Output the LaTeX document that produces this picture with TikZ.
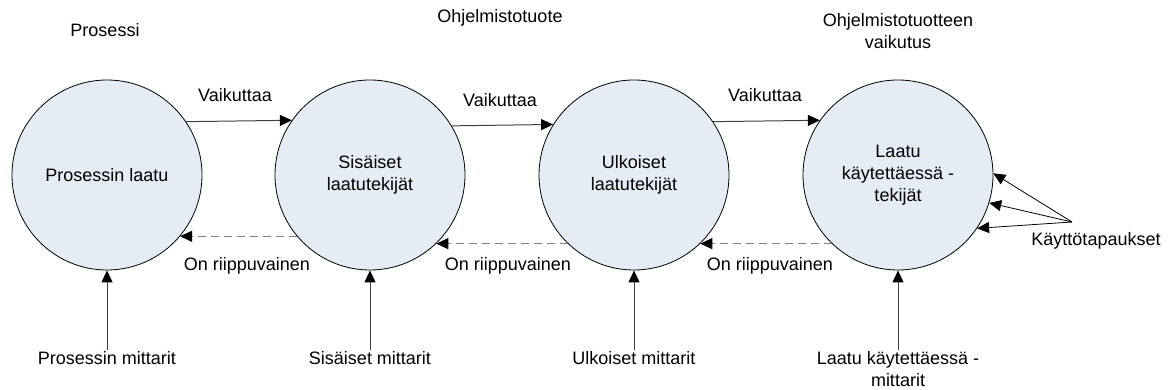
\documentclass[tikz,border=0pt]{standalone}
\usepackage{fontspec}
\setmainfont{Liberation Sans}
\usetikzlibrary{arrows.meta}
\definecolor{circfill}{RGB}{230,236,246}
\definecolor{linegray}{RGB}{64,64,64}
\definecolor{dashgray}{RGB}{128,128,128}
\begin{document}
\begin{tikzpicture}[x=1pt,y=-1pt,
  every node/.style={font=\fontsize{18}{22}\selectfont},
  quality/.style={circle,draw=black,line width=0.8pt,fill=circfill,minimum size=190pt,inner sep=0pt,align=center},
  lbl/.style={inner sep=1pt,align=center},
  tip/.style={-{Triangle[length=12pt,width=11pt,color=black,fill=black]}},
  affects/.style={tip,draw=linegray,line width=1pt},
  depends/.style={tip,draw=dashgray,line width=1pt,dash pattern=on 8pt off 5pt},
  measure/.style={tip,draw=linegray,line width=1pt},
  usecase/.style={tip,draw=black,line width=0.8pt}]
\useasboundingbox (0,0) rectangle (1168,390);

% quality circles
\node[quality] (c1) at (107,175) {Prosessin laatu};
\node[quality] (c2) at (370,175) {Sisäiset\\laatutekijät};
\node[quality] (c3) at (634,175) {Ulkoiset\\laatutekijät};
\node[quality] (c4) at (898,175) {Laatu\\käytettäessä -\\tekijät};

% column headings
\node[lbl] (h1) at (105,30) {Prosessi};
\node[lbl] (h2) at (500,18) {Ohjelmistotuote};
\node[lbl] (h3) at (898,31) {Ohjelmistotuotteen\\vaikutus};

% influence arrows
\draw[affects] (c1.34.6) -- (c2.145.4);
\draw[affects] (c2.31.8) -- (c3.148.2);
\draw[affects] (c3.34.6) -- (c4.145.4);
\node[lbl] (v1) at (235,95) {Vaikuttaa};
\node[lbl] (v2) at (500,100) {Vaikuttaa};
\node[lbl] (v3) at (765,95) {Vaikuttaa};

% dependency arrows
\draw[depends] (c2.220) -- (c1.-40);
\draw[depends] (c3.226.6) -- (c2.-46.6);
\draw[depends] (c4.226.6) -- (c3.-46.6);
\node[lbl] (d1) at (247,266) {On riippuvainen};
\node[lbl] (d2) at (508,266) {On riippuvainen};
\node[lbl] (d3) at (770,266) {On riippuvainen};

% metrics feeding each quality view
\node[lbl,anchor=north] (m1) at (107,350) {Prosessin mittarit};
\node[lbl,anchor=north] (m2) at (370,350) {Sisäiset mittarit};
\node[lbl,anchor=north] (m3) at (634,350) {Ulkoiset mittarit};
\node[lbl,anchor=north] (m4) at (898,350) {Laatu käytettäessä -\\mittarit};
\draw[measure] (m1.north) -- (c1.south);
\draw[measure] (m2.north) -- (c2.south);
\draw[measure] (m3.north) -- (c3.south);
\draw[measure] (m4.north) -- (c4.south);

% use cases
\node[lbl] (uc) at (1096,241) {Käyttötapaukset};
\coordinate (ucp) at (1072,222);
\draw[usecase] (ucp) -- (c4.1);
\draw[usecase] (ucp) -- (c4.-17);
\draw[usecase] (ucp) -- (c4.-34);
\end{tikzpicture}
\end{document}
